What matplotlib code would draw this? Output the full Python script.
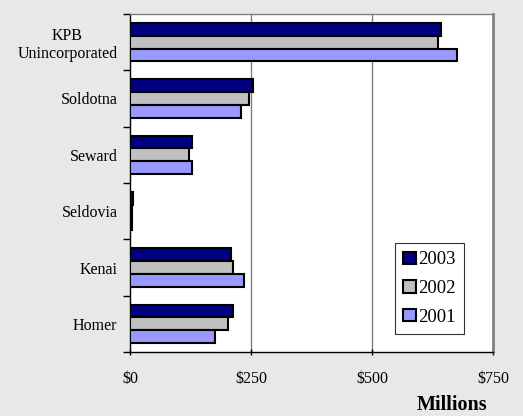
import matplotlib
matplotlib.use("Agg")
import matplotlib.pyplot as plt
import numpy as np
from matplotlib.ticker import FixedLocator

categories = ["Homer", "Kenai", "Seldovia", "Seward", "Soldotna", "KPB\nUnincorporated"]
series_names = ["2003", "2002", "2001"]
v2003 = [213, 209, 6, 129, 255, 642]
v2002 = [203, 212, 5, 121, 245, 637]
v2001 = [176, 235, 5, 129, 229, 675]
xticks = [0, 250, 500, 750]
xticklabels = ["$0", "$250", "$500", "$750"]
colors = ["#000080", "#C0C0C0", "#9999FF"]

plt.rcParams['font.family'] = ['Liberation Serif', 'DejaVu Serif']

fig = plt.figure(figsize=(5.23, 4.16), dpi=100)
fig.patch.set_facecolor("#E8E8E8")
ax = fig.add_axes([130/523, 1-352/416, 363/523, 338/416])
ax.set_facecolor("white")

y = np.arange(len(categories))
h = 0.225
offsets = [h, 0, -h]
bars = []
for vals, off, c, name in zip([v2003, v2002, v2001], offsets, colors, series_names):
    b = ax.barh(y + off, vals, height=h, color=c, edgecolor="black", linewidth=1.5, label=name, zorder=3)
    bars.append(b)

ax.set_xlim(0, 750)
ax.set_ylim(-0.5, len(categories) - 0.5)
ax.set_xticks(xticks)
ax.set_xticklabels(xticklabels, fontsize=11.5)
ax.set_yticks(y)
ax.set_yticklabels(categories, fontsize=11.5, linespacing=1.15, multialignment='center')
ax.tick_params(axis='y', which='major', length=0, pad=9)
ax.yaxis.set_minor_locator(FixedLocator(np.arange(-0.5, len(categories), 1.0)))
ax.tick_params(axis='y', which='minor', length=5, direction='out', color='black', width=1)
ax.tick_params(axis='x', which='major', length=5, direction='inout', color='black', width=1, pad=11)

for v in [250, 500]:
    ax.axvline(v, color="#808080", linewidth=1, zorder=1)

ax.spines['left'].set_color('black')
ax.spines['bottom'].set_color('black')
ax.spines['left'].set_linewidth(1)
ax.spines['bottom'].set_linewidth(1)
ax.spines['top'].set_color('#808080')
ax.spines['top'].set_linewidth(1)
ax.spines['right'].set_color('#808080')
ax.spines['right'].set_linewidth(2)

leg = ax.legend(handles=bars, labels=series_names, loc='lower left',
                bbox_to_anchor=(0.730, 0.053), fontsize=13.5, frameon=True,
                fancybox=False, shadow=False, handlelength=0.65, handleheight=0.65,
                handletextpad=0.15, labelspacing=0.62, borderpad=0.45, borderaxespad=0)
leg.get_frame().set_edgecolor('black')
leg.get_frame().set_linewidth(0.8)
leg.get_frame().set_facecolor('white')

fig.text(452/523, 1-405/416, "Millions", ha='center', va='center', fontsize=14.5, fontweight='bold')

fig.savefig("out.png", dpi=100, facecolor=fig.get_facecolor())
